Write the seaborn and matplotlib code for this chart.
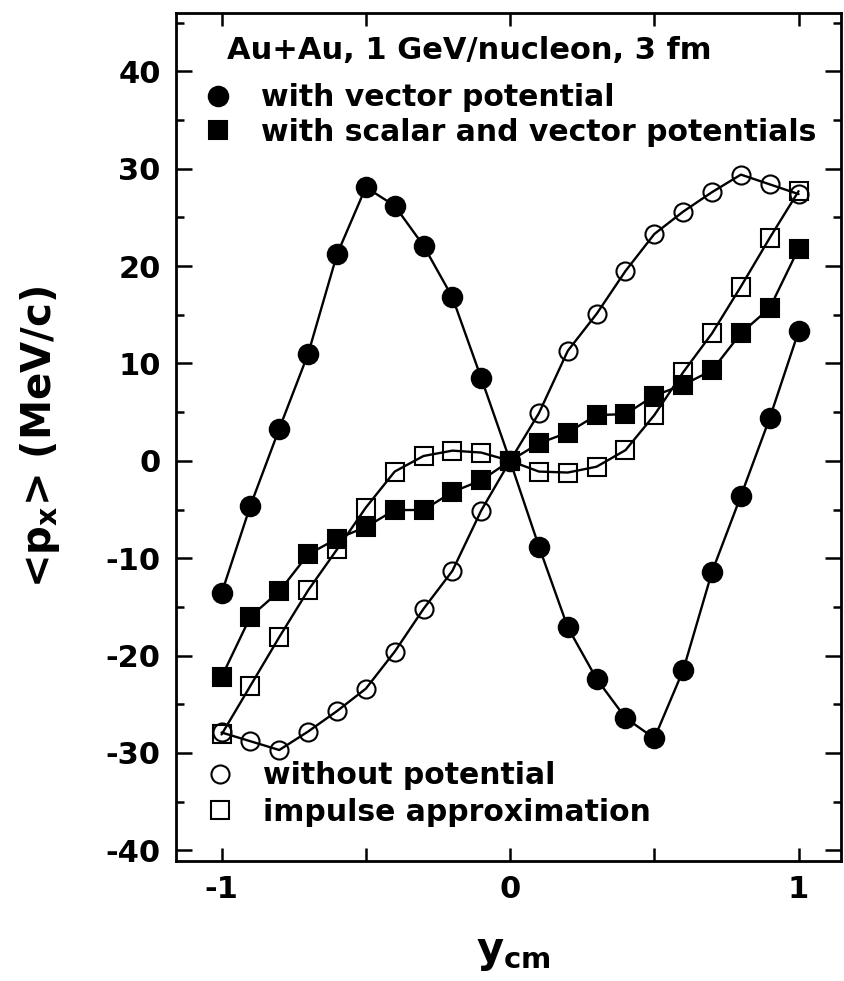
import matplotlib
matplotlib.use("Agg")
import matplotlib.pyplot as plt
import seaborn as sns
from matplotlib.lines import Line2D
from matplotlib.ticker import FixedLocator, MultipleLocator

# Rapidity bins (y_cm) and mean transverse momentum <p_x> in MeV/c
y_cm = [-1.0, -0.9, -0.8, -0.7, -0.6, -0.5, -0.4, -0.3, -0.2, -0.1, 0.0,
        0.1, 0.2, 0.3, 0.4, 0.5, 0.6, 0.7, 0.8, 0.9, 1.0]

px_vector = [-13.6, -4.6, 3.3, 11.0, 21.2, 28.1, 26.2, 22.1, 16.8, 8.5, 0.0,
             -8.8, -17.1, -22.4, -26.4, -28.5, -21.5, -11.4, -3.6, 4.4, 13.3]
px_scalar_vector = [-22.2, -16.0, -13.4, -9.6, -8.0, -6.8, -5.05, -5.05, -3.2, -2.0, 0.0,
                    1.8, 2.9, 4.7, 4.8, 6.7, 7.8, 9.3, 13.1, 15.7, 21.8]
px_no_potential = [-27.9, -28.8, -29.7, -27.8, -25.7, -23.4, -19.6, -15.2, -11.3, -5.1, 0.0,
                   4.9, 11.3, 15.1, 19.5, 23.3, 25.6, 27.6, 29.4, 28.4, 27.4]
px_impulse = [-28.1, -23.1, -18.1, -13.3, -9.1, -4.8, -1.1, 0.5, 1.05, 0.85, 0.0,
              -1.1, -1.2, -0.6, 1.1, 4.7, 9.1, 13.1, 17.9, 22.9, 27.7]

labels_top = ["with vector potential", "with scalar and vector potentials"]
labels_bottom = ["without potential", "impulse approximation"]
title_text = "Au+Au, 1 GeV/nucleon, 3 fm"

x_ticks = [-1, 0, 1]
x_minor = [-0.5, 0.5]
y_ticks = [-40, -30, -20, -10, 0, 10, 20, 30, 40]

sns.set_theme(style="ticks")
plt.rcParams["font.family"] = ["DejaVu Sans"]
plt.rcParams["font.weight"] = "bold"
plt.rcParams["mathtext.fontset"] = "dejavusans"
plt.rcParams["axes.unicode_minus"] = False
plt.rcParams["text.color"] = "black"

W, H = 844, 981
fig = plt.figure(figsize=(W / 100, H / 100), dpi=100)
ax = fig.add_axes([176 / W, 1 - 861 / H, 665 / W, 848 / H])

styles = [
    (px_impulse, "s", "none", 13),
    (px_no_potential, "o", "none", 13),
    (px_scalar_vector, "s", "black", 12.5),
    (px_vector, "o", "black", 14),
]
for values, marker, face, size in styles:
    sns.lineplot(x=y_cm, y=values, ax=ax, color="black", lw=1.7,
                 marker=marker, markersize=size, markerfacecolor=face,
                 markeredgecolor="black", markeredgewidth=1.5,
                 estimator=None, sort=False, legend=False)

ax.set_xlim(-1.158, 1.147)
ax.set_ylim(-41.1, 46.0)

ax.xaxis.set_major_locator(FixedLocator(x_ticks))
ax.xaxis.set_minor_locator(FixedLocator(x_minor))
ax.yaxis.set_major_locator(FixedLocator(y_ticks))
ax.yaxis.set_minor_locator(MultipleLocator(5))
ax.set_xticklabels([str(t) for t in x_ticks])

ax.tick_params(which="both", direction="in", top=True, right=True,
               width=1.8, color="black", labelcolor="black")
ax.tick_params(axis="x", which="both", length=9.5, labelsize=22, pad=10)
ax.tick_params(axis="y", which="major", length=11.5, labelsize=22, pad=11)
ax.tick_params(axis="y", which="minor", length=6)
for lbl in ax.get_xticklabels() + ax.get_yticklabels():
    lbl.set_fontweight("bold")

for sp in ax.spines.values():
    sp.set_linewidth(2.0)
    sp.set_color("black")

ax.set_xlabel(r"$\mathbf{y_{cm}}$", fontsize=30, color="black")
ax.xaxis.set_label_coords(0.508, -0.083)
ax.set_ylabel(r"<$\mathregular{p_x}$> (MeV/c)", fontsize=29, color="black",
              fontweight="bold")
ax.yaxis.set_label_coords(-0.172, 0.5)

ax.text(0.077, 0.956, title_text, transform=ax.transAxes, fontsize=22,
        fontweight="bold", ha="left", va="center", color="black")

key_style = dict(ls="none", color="black", markeredgecolor="black", markeredgewidth=1.5)
top_handles = [Line2D([], [], marker="o", markersize=14, markerfacecolor="black", **key_style),
               Line2D([], [], marker="s", markersize=12.5, markerfacecolor="black", **key_style)]
bottom_handles = [Line2D([], [], marker="o", markersize=13, markerfacecolor="none", **key_style),
                  Line2D([], [], marker="s", markersize=13, markerfacecolor="none", **key_style)]

leg_kw = dict(frameon=False, handlelength=1.0, handletextpad=0.97,
              borderpad=0, borderaxespad=0, loc="center left",
              prop={"size": 21.5, "weight": "bold"})
leg_top = ax.legend(top_handles, labels_top, bbox_to_anchor=(0.040, 0.8797),
                    labelspacing=0.17, **leg_kw)
ax.add_artist(leg_top)
ax.legend(bottom_handles, labels_bottom, bbox_to_anchor=(0.043, 0.079),
          labelspacing=0.24, **leg_kw)

fig.savefig("out.png", dpi=100)
